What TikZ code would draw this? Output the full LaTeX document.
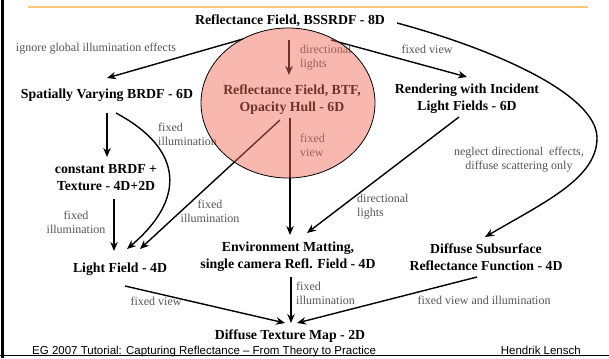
\documentclass[tikz,border=0pt]{standalone}
\usepackage{fontspec}
\setmainfont{Liberation Serif}
\newfontfamily\footfont{Liberation Sans}
\usetikzlibrary{shapes,arrows.meta,calc}
\definecolor{labelgrey}{RGB}{85,85,85}
\definecolor{hullred}{RGB}{240,105,85}
\definecolor{rulecol}{RGB}{250,200,120}
\tikzstyle{line} = [draw, line width=1.4pt, -{Stealth[length=9pt,width=7.5pt]}]
\tikzstyle{level} = [font=\fontsize{13.8}{17}\selectfont\bfseries, align=center, inner sep=0pt]
\tikzstyle{cond} = [font=\fontsize{12}{14}\selectfont, text=labelgrey, align=center, inner sep=0pt]
\tikzstyle{condl} = [cond, align=left, anchor=west]
\tikzstyle{foot} = [font=\footfont\fontsize{11.5}{13}\selectfont, inner sep=0pt]
\tikzstyle{hull} = [ellipse, draw, line width=0.8pt, fill=hullred, fill opacity=0.47, minimum width=174pt, minimum height=150pt]

\begin{document}
\begin{tikzpicture}[x=1pt, y=-1pt]
		\useasboundingbox (0,0) rectangle (609,358);
		\draw [rulecol, line width=2pt] (28,7) -- (588,7);
		\draw [line width=3pt] (2.5,0) -- (2.5,358);
		\draw [line width=1.5pt] (0,355.5) -- (609,355.5);
		
		\node [level] (bssrdf) at (290,21) {Reflectance Field, BSSRDF - 8D};
		\node [level] (svbrdf) at (107,95) {Spatially Varying BRDF - 6D};
		\node [level] (btf) at (292,100) {Reflectance Field, BTF,\\Opacity Hull - 6D};
		\node [level] (ilf) at (467,99) {Rendering with Incident\\Light Fields - 6D};
		\node [level] (cbrdf) at (106,178) {constant BRDF +\\Texture - 4D+2D};
		\node [level] (lf) at (120,269) {Light Field - 4D};
		\node [level] (env) at (288,257) {Environment Matting,\\single camera Refl. Field - 4D};
		\node [level] (dsrf) at (486,257) {Diffuse Subsurface\\Reflectance Function - 4D};
		\node [level] (dtm) at (290,336) {Diffuse Texture Map - 2D};
		
		\path [line] ($(bssrdf)+(-47,18)$) to ($(svbrdf)+(0,-17)$);
		\path [line] ($(bssrdf)+(-1,19)$) to ($(btf)+(-3,-25)$);
		\path [line] ($(bssrdf)+(41,19)$) to ($(ilf)+(0,-22)$);
		\coordinate (bend) at (597,138);
		\path [line] ($(bssrdf)+(107,2)$) .. controls (497,50) and (597,95) .. (bend)
			.. controls (597,178) and (545,202) .. ($(dsrf)+(-1,-20)$);
		
		\path [line] ($(svbrdf)+(0,18)$) to ($(cbrdf)+(1,-21)$);
		\path [line] ($(svbrdf)+(9,18)$) .. controls (185,150) and (185,200) .. ($(lf)+(7,-20)$);
		\path [line] ($(cbrdf)+(8,21)$) to ($(lf)+(-6,-18)$);
		\path [line] ($(btf)+(-12,20)$) to ($(lf)+(20,-20)$);
		\path [line] ($(btf)+(-2,18)$) to ($(env)+(2,-22)$);
		\path [line] ($(ilf)+(-8,18)$) to ($(env)+(19,-24)$);
		
		\path [line] ($(env)+(3,20)$) to ($(dtm)+(1,-13)$);
		\path [line] ($(lf)+(5,17)$) to ($(dtm)+(-5,-13)$);
		\path [line] ($(dsrf)+(-9,20)$) to ($(dtm)+(7,-13)$);
		
		\node [cond] (ignore) at (96,49) {ignore global illumination effects};
		\node [condl] (dirlights) at (300,58) {directional\\lights};
		\node [cond] (fixview) at (427,49) {fixed view};
		\node [cond] (neglect) at (519,160) {neglect directional\ \ effects,\\diffuse scattering only};
		\node [condl] (fixillumsv) at (158,134) {fixed\\illumination};
		\node [condl] (fixviewbtf) at (300,145) {fixed\\view};
		\node [cond] (fixillumc) at (76,222) {fixed\\illumination};
		\node [cond] (fixillumbtf) at (210,211) {fixed\\illumination};
		\node [condl] (dirlightsilf) at (357,207) {directional\\lights};
		\node [cond] (fixviewlf) at (156,301) {fixed view};
		\node [condl] (fixillumenv) at (296,293) {fixed\\illumination};
		\node [cond] (fixviewillum) at (484,300) {fixed view and illumination};
		
		\node [foot, anchor=base west] (event) at (32,354) {EG 2007 Tutorial: Capturing Reflectance – From Theory to Practice};
		\node [foot, anchor=base east] (speaker) at (581,354) {Hendrik Lensch};
		
		% translucent hull drawn on top
		\node [hull] (hullarea) at (288,103) {};
		\end{tikzpicture}
\end{document}
